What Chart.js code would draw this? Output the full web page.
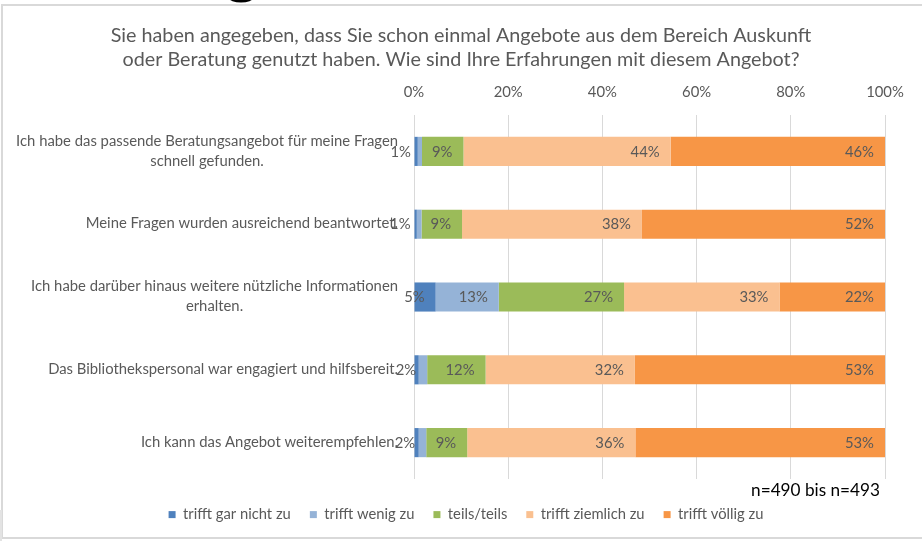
<!DOCTYPE html>
<html><head><meta charset="utf-8">
<script src="https://cdn.jsdelivr.net/npm/chart.js@4.4.1/dist/chart.umd.min.js"></script>
<style>html,body{margin:0;padding:0;background:#fff;} #wrap{width:922px;height:541px;position:relative;}</style>
</head><body><div id="wrap"><canvas id="c" width="922" height="541"></canvas></div>
<script>
// ---- data ----
const titleLines = ['Sie haben angegeben, dass Sie schon einmal Angebote aus dem Bereich Auskunft',
                    'oder Beratung genutzt haben. Wie sind Ihre Erfahrungen mit diesem Angebot?'];
const categories = [
  ['Ich habe das passende Beratungsangebot für meine Fragen', 'schnell gefunden.'],
  ['Meine Fragen wurden ausreichend beantwortet.'],
  ['Ich habe darüber hinaus weitere nützliche Informationen', 'erhalten.'],
  ['Das Bibliothekspersonal war engagiert und hilfsbereit.'],
  ['Ich kann das Angebot weiterempfehlen.']
];
const seriesNames = ['trifft gar nicht zu', 'trifft wenig zu', 'teils/teils', 'trifft ziemlich zu', 'trifft völlig zu'];
const garNichtZu  = [0.8, 0.6, 4.6, 1.0, 1.0];
const wenigZu     = [0.9, 1.0, 13.4, 1.8, 1.6];
const teilsTeils  = [8.8, 8.6, 26.6, 12.4, 8.7];
const ziemlichZu  = [44.0, 38.2, 33.0, 31.7, 35.7];
const voelligZu   = [45.5, 51.6, 22.4, 53.1, 53.0];
const tickLabels  = ['0%', '20%', '40%', '60%', '80%', '100%'];
const sampleNote  = 'n=490 bis n=493';

// ---- styling ----
const FAMILY = 'Lato, "Open Sans", sans-serif';
const colors = ['#4f81bd', '#95b3d7', '#9bbb59', '#fac090', '#f79646'];
const TEXT = '#595959';
function fitSize(text, target) {
  const c = document.createElement('canvas').getContext('2d');
  c.font = '100px ' + FAMILY;
  return 100 * target / c.measureText(text).width;
}
const titleSize = fitSize(titleLines[0], 701);
const catSize = fitSize('Das Bibliothekspersonal war engagiert und hilfsbereit.', 350);
const legendSize = fitSize(seriesNames[0], 108);
const noteSize = fitSize(sampleNote, 129);

const seriesData = [garNichtZu, wenigZu, teilsTeils, ziemlichZu, voelligZu];

const deco = {
  id: 'deco',
  beforeDraw(chart) {
    const ctx = chart.ctx;
    ctx.save();
    ctx.fillStyle = '#fff';
    ctx.fillRect(0, 0, chart.width, chart.height);
    ctx.fillStyle = '#d9d9d9';
    ctx.fillRect(2, 4, 920, 2);
    ctx.fillRect(1, 4, 2, 535);
    ctx.fillRect(1, 537, 921, 2);
    ctx.fillStyle = '#e3e3e3';
    ctx.fillRect(0, 510, 2, 31);
    ctx.fillStyle = '#000';
    ctx.beginPath();
    ctx.ellipse(241, -2, 12, 4.5, 0, 0, Math.PI);
    ctx.fill();
    ctx.restore();
  },
  afterDatasetsDraw(chart) {
    const ctx = chart.ctx;
    ctx.save();
    ctx.font = catSize + 'px ' + FAMILY;
    ctx.fillStyle = TEXT;
    ctx.textAlign = 'right';
    ctx.textBaseline = 'middle';
    const drawn = chart.data.labels.map(() => []);
    for (let d = chart.data.datasets.length - 1; d >= 0; d--) {
      const meta = chart.getDatasetMeta(d);
      meta.data.forEach((el, i) => {
        const v = chart.data.datasets[d].data[i];
        const t = Math.round(v) + '%';
        const w = ctx.measureText(t).width;
        const right = el.x - 11;
        const left = right - w;
        if (drawn[i].some(b => left < b.r + 1 && right > b.l - 1)) return;
        drawn[i].push({ l: left, r: right });
        ctx.fillText(t, right, el.y + 0.5);
      });
    }
    ctx.restore();
  },
  afterDraw(chart) {
    const ctx = chart.ctx;
    ctx.save();
    // title
    ctx.fillStyle = TEXT;
    ctx.textAlign = 'center';
    ctx.textBaseline = 'middle';
    ctx.font = titleSize + 'px ' + FAMILY;
    ctx.fillText(titleLines[0], chart.width / 2, 36);
    ctx.fillText(titleLines[1], chart.width / 2, 60);
    // category labels
    ctx.font = catSize + 'px ' + FAMILY;
    const yScale = chart.scales.y;
    const rightEdge = chart.chartArea.left - 16;
    chart.data.labels.forEach((lines, i) => {
      const y = yScale.getPixelForValue(i);
      const maxW = Math.max(...lines.map(l => ctx.measureText(l).width));
      const cx = rightEdge - maxW / 2;
      lines.forEach((l, j) => {
        ctx.fillText(l, cx, y + (j - (lines.length - 1) / 2) * 20 - 0.5);
      });
    });
    // sample note
    ctx.fillStyle = '#000';
    ctx.textAlign = 'right';
    ctx.font = noteSize + 'px ' + FAMILY;
    ctx.fillText(sampleNote, 880, 490);
    ctx.restore();
  }
};

new Chart(document.getElementById('c'), {
  type: 'bar',
  data: {
    labels: categories,
    datasets: seriesNames.map((name, k) => ({
      label: name,
      data: seriesData[k],
      backgroundColor: colors[k],
      borderWidth: 0,
      categoryPercentage: 1.0,
      barPercentage: 0.4
    }))
  },
  options: {
    indexAxis: 'y',
    responsive: false,
    animation: false,
    devicePixelRatio: 1,
    layout: { padding: { top: 70, left: 10, right: 0, bottom: 9 } },
    scales: {
      x: {
        position: 'top', stacked: true, min: 0, max: 100,
        ticks: { stepSize: 20, padding: 14, color: TEXT, font: { family: FAMILY, size: catSize },
                 callback: (v, i) => tickLabels[i] },
        grid: { color: '#d9d9d9', drawTicks: false, lineWidth: 1 },
        border: { display: false },
        afterFit(s) { s.height = 45; }
      },
      y: {
        position: 'left', stacked: true,
        ticks: { display: false },
        grid: { display: false },
        border: { display: false },
        afterFit(s) { s.width = 404; }
      },
      yR: {
        type: 'linear', position: 'right', display: true,
        ticks: { display: false },
        grid: { display: false },
        border: { display: false },
        afterFit(s) { s.width = 37; }
      }
    },
    plugins: {
      title: { display: false },
      tooltip: { enabled: false },
      legend: {
        position: 'bottom',
        title: { display: true, text: ' ', font: { size: 1 }, padding: { top: 0, bottom: 8 } },
        labels: { boxWidth: 7, boxHeight: 7, padding: 19, color: TEXT,
                  font: { family: FAMILY, size: legendSize } }
      }
    }
  },
  plugins: [deco]
});
</script>
</body></html>
